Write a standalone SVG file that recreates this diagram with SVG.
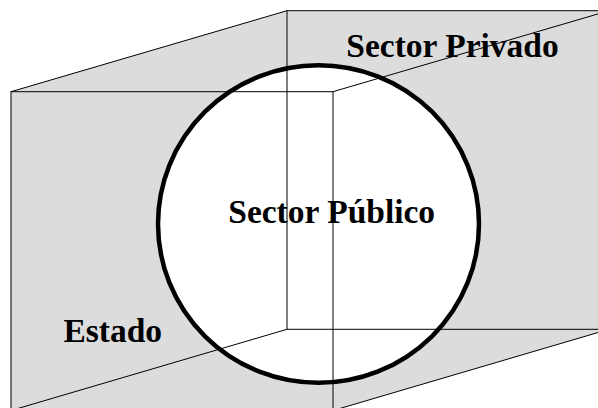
<svg xmlns="http://www.w3.org/2000/svg" width="598" height="408" viewBox="0 0 598 408">
<style>
.edge{fill:none;stroke:#000;stroke-width:1}
.lbl{font-family:"Liberation Serif","Times New Roman",serif;font-weight:bold;font-size:33.5px;fill:#000}
</style>
<rect width="598" height="408" fill="#fff"/>
<g id="box">
<polygon points="11,91.7 287,10.7 609,10.7 609,329.3 333,410.5 11,410.5" fill="#dcdcdc"/>
</g>
<g id="sector-publico-fill">
<ellipse cx="318.5" cy="224" rx="160.5" ry="158.8" fill="#fff"/>
</g>
<g id="connectors">
<rect class="edge" x="11" y="91.7" width="322" height="318.8"/>
<rect class="edge" x="287" y="10.7" width="322" height="318.6"/>
<line class="edge" x1="11" y1="91.7" x2="287" y2="10.7"/>
<line class="edge" x1="333" y1="91.7" x2="609" y2="10.7"/>
<line class="edge" x1="11" y1="410.5" x2="287" y2="329.3"/>
<line class="edge" x1="333" y1="410.5" x2="609" y2="329.3"/>
</g>
<g id="sector-publico">
<ellipse cx="318.5" cy="224" rx="160.5" ry="158.8" fill="none" stroke="#000" stroke-width="4.5"/>
<text class="lbl" x="331.7" y="223.3" text-anchor="middle">Sector Público</text>
</g>
<g id="sector-privado">
<text class="lbl" x="452.5" y="56.7" text-anchor="middle">Sector Privado</text>
</g>
<g id="estado">
<text class="lbl" x="112.8" y="341.7" text-anchor="middle">Estado</text>
</g>
</svg>
